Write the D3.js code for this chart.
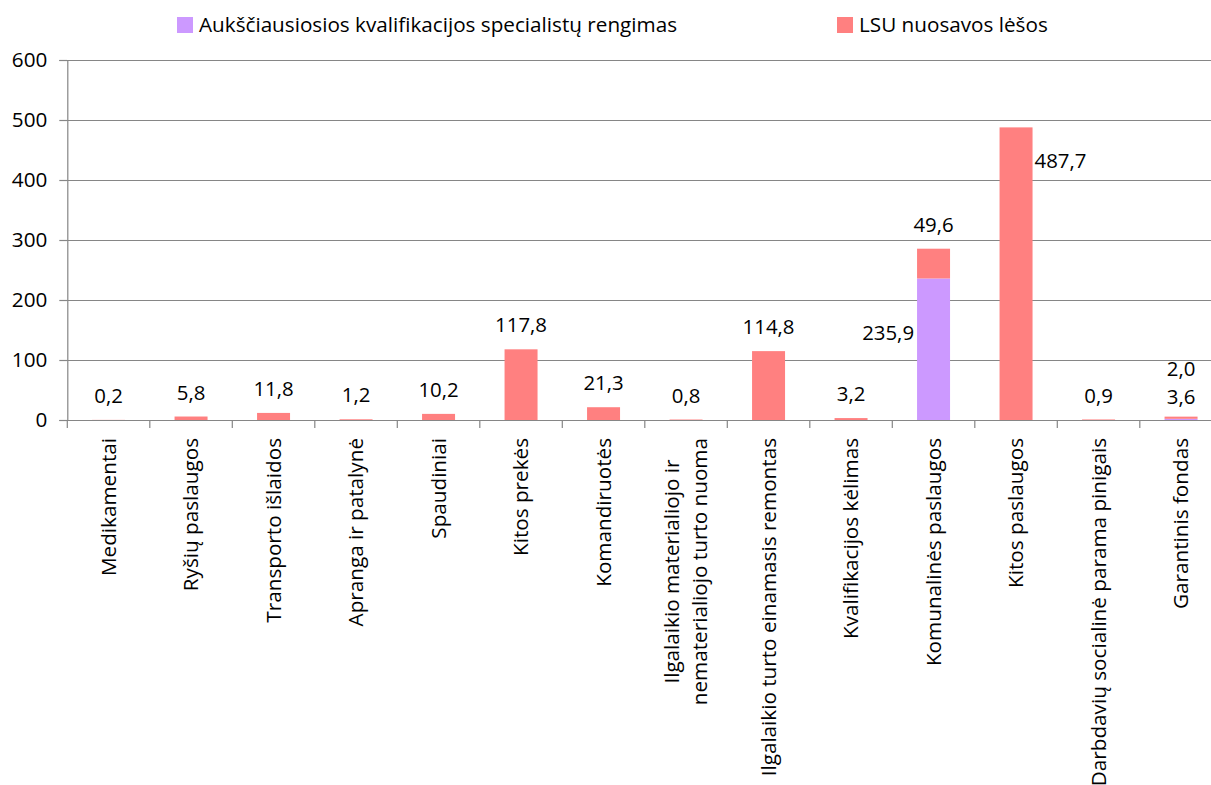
<!DOCTYPE html>
<html>
<head>
<meta charset="utf-8">
<script src="https://cdn.jsdelivr.net/npm/d3@7"></script>
<style>
  body { margin: 0; background: #fff; }
  text { font-family: "Open Sans", sans-serif; fill: #000; }
</style>
</head>
<body>
<div id="container"></div>
<script>
const categories = [
  "Medikamentai",
  "Ryšių paslaugos",
  "Transporto išlaidos",
  "Apranga ir patalynė",
  "Spaudiniai",
  "Kitos prekės",
  "Komandiruotės",
  "Ilgalaikio materialiojo ir\nnematerialiojo turto nuoma",
  "Ilgalaikio turto einamasis remontas",
  "Kvalifikacijos kėlimas",
  "Komunalinės paslaugos",
  "Kitos paslaugos",
  "Darbdavių socialinė parama pinigais",
  "Garantinis fondas"
];
const seriesNames = ["Aukščiausiosios kvalifikacijos specialistų rengimas", "LSU nuosavos lėšos"];
const purpleValues = [0, 0, 0, 0, 0, 0, 0, 0, 0, 0, 235.9, 0, 0, 2.0];
const salmonValues = [0.2, 5.8, 11.8, 1.2, 10.2, 117.8, 21.3, 0.8, 114.8, 3.2, 49.6, 487.7, 0.9, 3.6];
const yTicks = [0, 100, 200, 300, 400, 500, 600];
const colors = ["#cc99ff", "#ff8080"];

const width = 1211, height = 785;
const marginLeft = 67.3, plotRight = 1222.3, yTop = 60, yBottom = 420;
const fs = 20.7;     // axis + legend text
const fsLabel = 20.4; // data labels

const svg = d3.select("#container").append("svg")
  .attr("width", width)
  .attr("height", height)
  .attr("viewBox", [0, 0, width, height]);

const x = d3.scaleBand()
  .domain(d3.range(categories.length))
  .range([marginLeft, plotRight])
  .paddingInner(0.6)
  .paddingOuter(0.3);

const y = d3.scaleLinear()
  .domain([0, 600])
  .range([yBottom, yTop]);

// gridlines
svg.append("g")
  .selectAll("line")
  .data(yTicks.filter(d => d > 0))
  .join("line")
  .attr("x1", marginLeft).attr("x2", plotRight)
  .attr("y1", d => Math.round(y(d)) + 0.5).attr("y2", d => Math.round(y(d)) + 0.5)
  .attr("stroke", "#868686").attr("stroke-width", 1.2);

// y axis
svg.append("g")
  .attr("transform", `translate(${marginLeft},0)`)
  .call(d3.axisLeft(y).tickValues(yTicks).tickSize(8).tickPadding(12).tickFormat(d3.format("d")))
  .call(g => g.select(".domain").attr("stroke", "#868686").attr("stroke-width", 1.2))
  .call(g => g.selectAll(".tick line").attr("stroke", "#868686").attr("stroke-width", 1.2))
  .call(g => g.selectAll(".tick text").attr("font-size", fs).attr("font-family", "Open Sans"));

// stacked bars
const table = categories.map((c, i) => ({ i, a: purpleValues[i], b: salmonValues[i] }));
const stack = d3.stack().keys(["a", "b"])(table);

svg.append("g")
  .selectAll("g")
  .data(stack)
  .join("g")
  .attr("fill", (d, k) => colors[k])
  .selectAll("rect")
  .data(d => d)
  .join("rect")
  .attr("x", d => x(d.data.i))
  .attr("y", d => y(d[1]))
  .attr("height", d => y(d[0]) - y(d[1]))
  .attr("width", x.bandwidth());

// x axis line and ticks between categories
const step = x.step();
const bounds = d3.range(categories.length + 1).map(i => marginLeft + i * step);
svg.append("line")
  .attr("x1", marginLeft).attr("x2", plotRight)
  .attr("y1", yBottom + 0.5).attr("y2", yBottom + 0.5)
  .attr("stroke", "#868686").attr("stroke-width", 1.2);
svg.append("g")
  .selectAll("line")
  .data(bounds)
  .join("line")
  .attr("x1", d => d).attr("x2", d => d)
  .attr("y1", yBottom).attr("y2", yBottom + 8)
  .attr("stroke", "#868686").attr("stroke-width", 1.2);

// category labels, rotated
const catG = svg.append("g");
categories.forEach((c, i) => {
  const lines = c.split("\n");
  const cx = x(i) + x.bandwidth() / 2;
  const lh = 28;
  const t = catG.append("g");
  const texts = lines.map((ln, k) => t.append("text")
    .attr("font-size", fs)
    .attr("text-anchor", "middle")
    .attr("dy", "0.35em")
    .text(ln));
  const maxLen = d3.max(texts, tx => tx.node().getComputedTextLength());
  texts.forEach((tx, k) => {
    const off = (k - (lines.length - 1) / 2) * lh;
    const ty = 438 + maxLen / 2;
    tx.attr("transform", `translate(${cx + off},${ty}) rotate(-90)`);
  });
});

// data labels
const fmt = v => v.toFixed(1).replace(".", ",");
const labelG = svg.append("g").attr("font-size", fsLabel);
table.forEach(d => {
  const cx = x(d.i) + x.bandwidth() / 2;
  const total = d.a + d.b;
  if (d.a > 0 && d.b > 0 && d.a < 50) {
    // tiny stacked bar: both labels above
    labelG.append("text").attr("x", cx).attr("y", y(total) - 48).attr("dy", "0.35em")
      .attr("text-anchor", "middle").text(fmt(d.a));
    labelG.append("text").attr("x", cx).attr("y", y(total) - 20).attr("dy", "0.35em")
      .attr("text-anchor", "middle").text(fmt(d.b));
    return;
  }
  if (d.a > 0) {
    labelG.append("text").attr("x", x(d.i) - 3).attr("y", (y(0) + y(d.a)) / 2 - 16).attr("dy", "0.35em")
      .attr("text-anchor", "end").text(fmt(d.a));
  }
  if (d.b > 0) {
    if (total > 400) {
      labelG.append("text").attr("x", x(d.i) + x.bandwidth() + 2).attr("y", y(total) + 33).attr("dy", "0.35em")
        .attr("text-anchor", "start").text(fmt(d.b));
    } else {
      labelG.append("text").attr("x", cx).attr("y", y(total) - 24).attr("dy", "0.35em")
        .attr("text-anchor", "middle").text(fmt(d.b));
    }
  }
});

// legend
const legendX = [177, 837];
const legend = svg.append("g").attr("font-size", fs);
seriesNames.forEach((s, k) => {
  legend.append("rect").attr("x", legendX[k]).attr("y", 17).attr("width", 16).attr("height", 16).attr("fill", colors[k]);
  legend.append("text").attr("x", legendX[k] + 22).attr("y", 25).attr("dy", "0.35em").text(s);
});
</script>
</body>
</html>
